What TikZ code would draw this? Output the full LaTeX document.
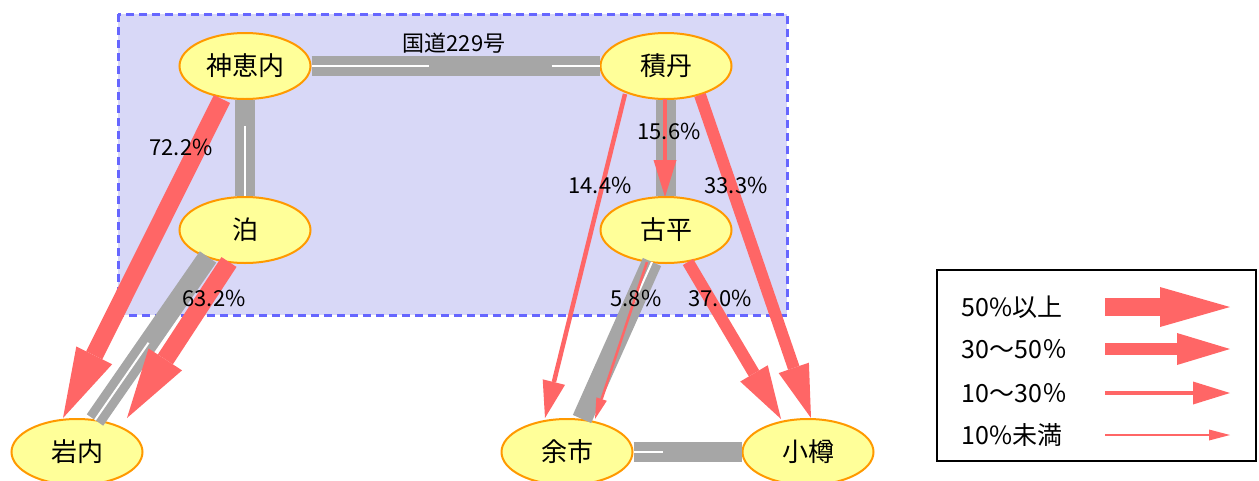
\documentclass[tikz,border=0pt]{standalone}
\usepackage{fontspec}
\setmainfont{Noto Sans CJK JP}
\usepackage{tikz}
\usetikzlibrary{shapes.geometric}
\usetikzlibrary{arrows.meta}

\definecolor{flowred}{HTML}{FF6666}
\definecolor{roadgray}{HTML}{A6A6A6}
\definecolor{townfill}{HTML}{FFFF99}
\definecolor{townedge}{HTML}{FF9900}
\definecolor{areafill}{HTML}{D8D8F7}
\definecolor{areaedge}{HTML}{6666FF}

\begin{document}
\begin{tikzpicture}[x=1pt,y=-1pt,
    town/.style={ellipse,draw=townedge,fill=townfill,line width=2pt,minimum width=131pt,minimum height=66pt,inner sep=0pt,font=\fontsize{26}{26}\selectfont},
    road/.style={draw=roadgray,line width=20pt},
    centreline/.style={draw=white,line width=2pt},
    share/.style={font=\fontsize{22}{22}\selectfont},
    keytext/.style={anchor=west,font=\fontsize{25}{25}\selectfont},
    big/.style={draw=flowred,line width=18pt,-{Triangle[length=70pt,width=40pt,line width=0pt]}},
    mid/.style={draw=flowred,line width=12pt,-{Triangle[length=53pt,width=32pt,line width=0pt]}},
    small/.style={draw=flowred,line width=4.5pt,-{Triangle[length=37pt,width=23pt,line width=0pt]}},
    tiny/.style={draw=flowred,line width=2.5pt,-{Triangle[length=21pt,width=11pt,line width=0pt]}}]
        \useasboundingbox (0,0) rectangle (1259,480);
        \draw[fill=areafill,draw=areaedge,line width=3pt,dash pattern=on 8pt off 5pt] (118,14) rectangle (787,315);

        \node[town] (kamoenai) at (245,66) {神恵内};
        \node[town] (tomari) at (245,230) {泊};
        \node[town] (iwanai) at (77,452) {岩内};
        \node[town] (shakotan) at (666,66) {積丹};
        \node[town] (furubira) at (666,230) {古平};
        \node[town] (yoichi) at (567,452) {余市};
        \node[town] (otaru) at (808,452) {小樽};

        \draw[road] (kamoenai) -- (shakotan);
        \draw[road] (tomari) -- (kamoenai);
        \draw[road] ([shift={(-37,27)}]tomari.center) -- ([shift={(18,-32)}]iwanai.center);
        \draw[road] (shakotan) -- (furubira);
        \draw[road] ([shift={(-14,32)}]furubira.center) -- ([shift={(15,-33)}]yoichi.center);
        \draw[road] (yoichi) -- (otaru);

        \draw[centreline,dash pattern=on 117pt off 123pt] (kamoenai) -- (shakotan);
        \draw[centreline,dash pattern=on 70pt off 100pt] (tomari) -- (kamoenai);
        \draw[centreline,dash pattern=on 94pt off 300pt] ([shift={(18,-32)}]iwanai.center) -- ([shift={(-37,27)}]tomari.center);
        \draw[centreline,dash pattern=on 49pt off 300pt] ([shift={(-14,32)}]furubira.center) -- ([shift={(15,-33)}]yoichi.center);
        \draw[centreline,dash pattern=on 29pt off 200pt] (yoichi) -- (otaru);

        \draw[big] ([shift={(-23,33)}]kamoenai.center) -- ([shift={(-14,-34)}]iwanai.center);
        \draw[big] ([shift={(-16,32)}]tomari.center) -- ([shift={(50,-34)}]iwanai.center);
        \draw[small] ([shift={(-1,33)}]shakotan.center) -- ([shift={(-1,-33)}]furubira.center);
        \draw[small] ([shift={(-41,28)}]shakotan.center) -- ([shift={(-22,-34)}]yoichi.center);
        \draw[mid] ([shift={(34,29)}]shakotan.center) -- ([shift={(3,-34)}]otaru.center);
        \draw[tiny] ([shift={(-19,32)}]furubira.center) -- ([shift={(28,-33)}]yoichi.center);
        \draw[mid] ([shift={(22,32)}]furubira.center) -- ([shift={(-27,-33)}]otaru.center);

        \node[share] (route) at (454,43) {国道229号};
        \node[share] (s-kamoenai-iwanai) at (181,147) {72.2\%};
        \node[share] (s-tomari-iwanai) at (214,298) {63.2\%};
        \node[share] (s-shakotan-furubira) at (669,131) {15.6\%};
        \node[share] (s-shakotan-yoichi) at (600,185) {14.4\%};
        \node[share] (s-shakotan-otaru) at (736,185) {33.3\%};
        \node[share] (s-furubira-yoichi) at (636,298) {5.8\%};
        \node[share] (s-furubira-otaru) at (720,298) {37.0\%};

        \draw[line width=2pt] (937,270) rectangle (1256,461);
        \foreach \y/\s/\t in {307/big/50\%以上,349/mid/30～50％,393/small/10～30％,435/tiny/10\%未満}{
            \node[keytext] (key\y) at (958,\y) {\t};
            \coordinate (from\y) at (1105,\y);
            \coordinate (to\y) at (1230,\y);
            \draw[\s] (from\y) -- (to\y);
        }
    \end{tikzpicture}
\end{document}
